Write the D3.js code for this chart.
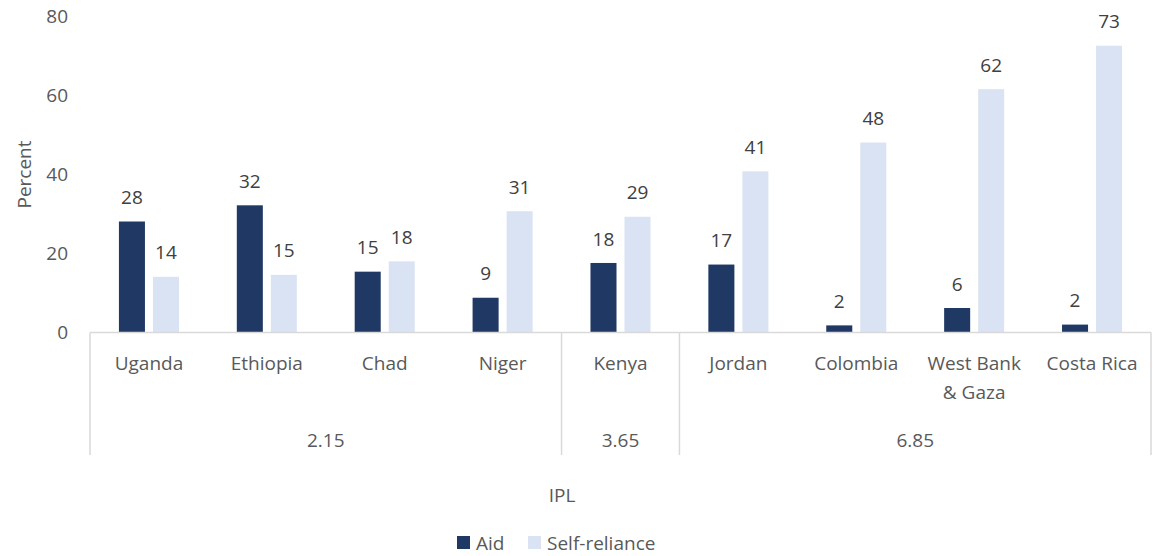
<!DOCTYPE html>
<meta charset="utf-8">
<script src="https://cdn.jsdelivr.net/npm/d3@7/dist/d3.min.js"></script>
<style>
  body { margin: 0; background: #fff; }
  text { font-family: "Open Sans", Lato, sans-serif; font-size: 19px; }
</style>
<body></body>
<script>
  // chart data
  var countries = ["Uganda", "Ethiopia", "Chad", "Niger", "Kenya", "Jordan", "Colombia", "West Bank & Gaza", "Costa Rica"];
  var aid = [28.1, 32.2, 15.4, 8.8, 17.6, 17.2, 1.8, 6.2, 2.0];
  var selfReliance = [14.1, 14.6, 18.0, 30.7, 29.3, 40.8, 48.1, 61.6, 72.6];
  var seriesNames = ["Aid", "Self-reliance"];
  var colors = ["#203864", "#dae3f3"];
  var groups = ["2.15", "3.65", "6.85"];
  var groupSizes = [4, 1, 4];
  var yTicks = [0, 20, 40, 60, 80];

  var width = 1156, height = 556;
  var mLeft = 90, mRight = 1151, mTop = 16.5, mBottom = 332.5;

  var svg = d3.select("body").append("svg")
      .attr("width", width)
      .attr("height", height);

  var x0 = d3.scaleBand()
      .domain(countries)
      .range([mLeft, mRight]);

  var x1 = d3.scaleBand()
      .domain(seriesNames)
      .range([0, x0.bandwidth()])
      .paddingInner(0.235)
      .paddingOuter(0.85);

  var y = d3.scaleLinear()
      .domain([0, 80])
      .range([mBottom, mTop]);

  // y tick labels
  svg.append("g")
    .selectAll("text")
    .data(yTicks)
    .join("text")
      .attr("x", 68)
      .attr("y", function(d) { return y(d); })
      .attr("dy", "0.35em")
      .attr("text-anchor", "end")
      .attr("fill", "#595959")
      .text(function(d) { return d; });

  svg.append("text")
      .attr("transform", "translate(24," + y(40) + ") rotate(-90)")
      .attr("text-anchor", "middle")
      .attr("dy", "0.35em")
      .attr("fill", "#595959")
      .text("Percent");

  var rows = countries.map(function(c, i) {
    return { country: c, values: [aid[i], selfReliance[i]] };
  });

  var cat = svg.append("g")
    .selectAll("g")
    .data(rows)
    .join("g")
      .attr("transform", function(d) { return "translate(" + x0(d.country) + ",0)"; });

  cat.selectAll("rect")
    .data(function(d) { return d.values.map(function(v, j) { return { s: seriesNames[j], v: v, c: colors[j] }; }); })
    .join("rect")
      .attr("x", function(d) { return x1(d.s); })
      .attr("y", function(d) { return y(d.v); })
      .attr("width", x1.bandwidth())
      .attr("height", function(d) { return y(0) - y(d.v); })
      .attr("fill", function(d) { return d.c; });

  cat.selectAll("text.lbl")
    .data(function(d) { return d.values.map(function(v, j) { return { s: seriesNames[j], v: v }; }); })
    .join("text")
      .attr("class", "lbl")
      .attr("x", function(d) { return x1(d.s) + x1.bandwidth() / 2; })
      .attr("y", function(d) { return y(d.v) - 24; })
      .attr("dy", "0.35em")
      .attr("text-anchor", "middle")
      .attr("fill", "#404040")
      .text(function(d) { return Math.round(d.v); });

  // axis line
  svg.append("line")
      .attr("x1", mLeft).attr("x2", mRight)
      .attr("y1", mBottom).attr("y2", mBottom)
      .attr("stroke", "#d9d9d9")
      .attr("stroke-width", 1.5);

  // category labels
  cat.append("text")
      .attr("y", 363)
      .attr("text-anchor", "middle")
      .attr("fill", "#595959")
      .each(function(d) {
        var t = d3.select(this);
        var parts = d.country === "West Bank & Gaza" ? ["West Bank", "& Gaza"] : [d.country];
        parts.forEach(function(p, k) {
          t.append("tspan")
              .attr("x", x0.bandwidth() / 2)
              .attr("dy", k === 0 ? "0.35em" : "29px")
              .text(p);
        });
      });

  // group separators and labels
  var start = 0;
  var bounds = [0];
  groupSizes.forEach(function(n) { start += n; bounds.push(start); });

  function edge(b) { return b < countries.length ? x0(countries[b]) : mRight; }

  svg.append("g")
    .selectAll("line")
    .data(bounds)
    .join("line")
      .attr("x1", edge)
      .attr("x2", edge)
      .attr("y1", mBottom)
      .attr("y2", 455)
      .attr("stroke", "#d9d9d9")
      .attr("stroke-width", 1.5);

  svg.append("g")
    .selectAll("text")
    .data(groups)
    .join("text")
      .attr("x", function(g, i) { return (edge(bounds[i]) + edge(bounds[i + 1])) / 2; })
      .attr("y", 440)
      .attr("dy", "0.35em")
      .attr("text-anchor", "middle")
      .attr("fill", "#595959")
      .text(function(g) { return g; });

  svg.append("text")
      .attr("x", 562)
      .attr("y", 495)
      .attr("dy", "0.35em")
      .attr("text-anchor", "middle")
      .attr("fill", "#595959")
      .text("IPL");

  // legend
  var legend = svg.append("g");
  var lx = [457, 528];
  seriesNames.forEach(function(s, i) {
    legend.append("rect")
        .attr("x", lx[i]).attr("y", 536)
        .attr("width", 13).attr("height", 13)
        .attr("fill", colors[i]);
    legend.append("text")
        .attr("x", lx[i] + 19).attr("y", 543)
        .attr("dy", "0.35em")
        .attr("fill", "#595959")
        .text(s);
  });
</script>
